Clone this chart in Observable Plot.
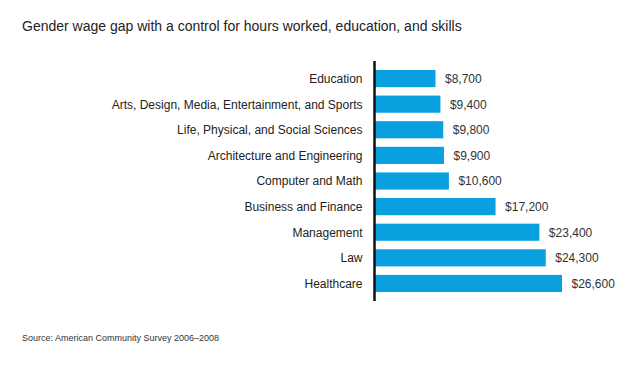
<!DOCTYPE html>
<html>
<head>
<meta charset="utf-8">
<script src="https://cdn.jsdelivr.net/npm/d3@7"></script>
<script src="https://cdn.jsdelivr.net/npm/@observablehq/plot@0.6"></script>
<style>
  html, body { margin: 0; padding: 0; background: #fff; }
  body { width: 640px; height: 365px; position: relative; overflow: hidden; font-family: "Liberation Sans", Arial, sans-serif; }
  #title { position: absolute; left: 22px; top: 18px; font-size: 14px; color: #222; white-space: nowrap; }
  #chart { position: absolute; left: 0; top: 45px; }
  #caption { position: absolute; left: 22px; top: 333px; font-size: 9px; color: #333; white-space: nowrap; }
</style>
</head>
<body>
<div id="title">Gender wage gap with a control for hours worked, education, and skills</div>
<div id="chart"></div>
<div id="caption">Source: American Community Survey 2006–2008</div>
<script>
const categories = [
  "Education",
  "Arts, Design, Media, Entertainment, and Sports",
  "Life, Physical, and Social Sciences",
  "Architecture and Engineering",
  "Computer and Math",
  "Business and Finance",
  "Management",
  "Law",
  "Healthcare"
];
const gaps = [8700, 9400, 9800, 9900, 10600, 17200, 23400, 24300, 26600];

const data = categories.map((c, i) => ({category: c, gap: gaps[i]}));
const fmt = d3.format("$,");

const chart = Plot.plot({
  width: 640,
  height: 272,
  marginTop: 16,
  marginBottom: 16,
  marginLeft: 374,
  marginRight: 54,
  style: {fontFamily: "Liberation Sans, Arial, sans-serif", fontSize: "12px", color: "#222", background: "transparent"},
  x: {domain: [0, 30000], axis: null},
  y: {domain: categories, paddingInner: 0.33, paddingOuter: 0.35, round: false, label: null},
  marks: [
    Plot.barX(data, {y: "category", x: "gap", fill: "#0a9fdf"}),
    Plot.text(data, {y: "category", x: "gap", text: d => fmt(d.gap), textAnchor: "start", dx: 9, fill: "#333", fontSize: 12}),
    Plot.axisY({tickSize: 0, tickPadding: 12, fontSize: 12, fill: "#222", label: null}),
    Plot.ruleX([0], {stroke: "#111", strokeWidth: 2.5})
  ]
});
document.getElementById("chart").appendChild(chart);
</script>
</body>
</html>
